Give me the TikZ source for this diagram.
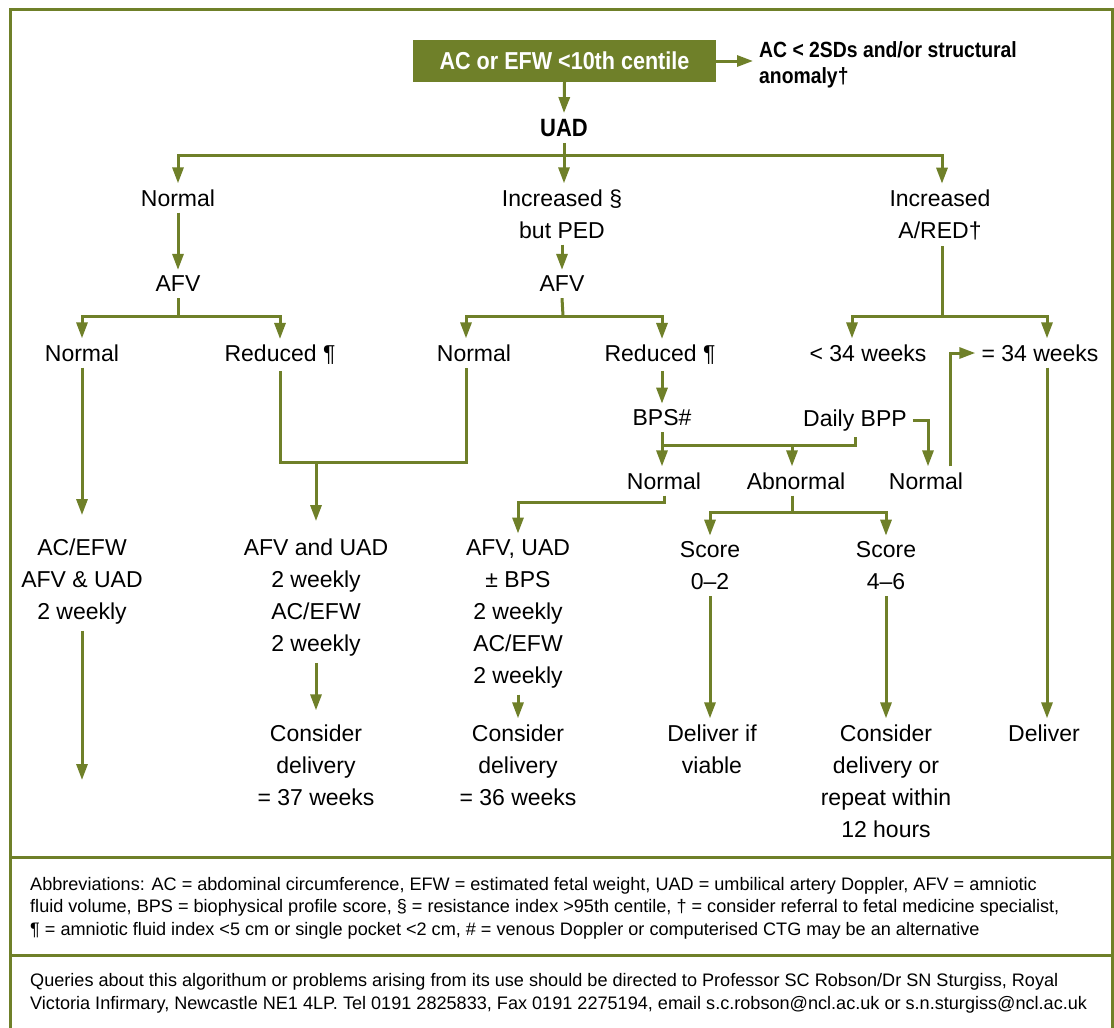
\documentclass[tikz,border=0pt]{standalone}
\usepackage{fontspec}
\setmainfont{Liberation Sans}
\newfontfamily\condfont[FakeStretch=0.88]{Liberation Sans}
\usetikzlibrary{arrows.meta}
\definecolor{leaf}{RGB}{111,128,41}
\tikzset{
  conn/.style={draw=leaf, line width=3pt},
  arr/.style={conn, -{Triangle[width=11pt,length=16pt]}},
  txt/.style={font=\fontsize{23}{32}\selectfont, align=center, inner sep=6pt},
  topbox/.style={fill=leaf, text=white, font=\condfont\bfseries\fontsize{24.5}{30}\selectfont,
    minimum width=303pt, minimum height=42pt, inner sep=0pt},
  boldtxt/.style={font=\condfont\bfseries\fontsize{25}{30}\selectfont, inner sep=6pt},
  sidetxt/.style={font=\condfont\bfseries\fontsize{22}{26}\selectfont, align=left, inner sep=0pt},
  foot/.style={font=\fontsize{18.1}{22.5}\selectfont, align=left, inner sep=0pt},
  framel/.style={draw=leaf, line width=3pt}
}
\begin{document}
\begin{tikzpicture}[x=1pt,y=-1pt]
\useasboundingbox (0,0) rectangle (1114,1028);
\fill[white] (0,0) rectangle (1114,1028);
% frame
\draw[framel] (10,1028) -- (10,9.5) -- (1112,9.5) -- (1112,1028);
\draw[framel] (10,857) -- (1112,857);
\draw[framel] (10,955) -- (1112,955);

% nodes
\node[topbox] (top) at (564.5,61) {AC or EFW <10th centile};
\node[sidetxt, anchor=west] (side) at (759,65) {AC < 2SDs and/or structural\\anomaly†};
\node[boldtxt] (uad) at (564,128) {UAD};
\node[txt] (n1) at (178,198) {Normal};
\node[txt] (inc) at (562,214) {Increased §\\but PED};
\node[txt] (ared) at (940,215) {Increased\\A/RED†};
\node[txt] (afv1) at (178,284) {AFV};
\node[txt] (afv2) at (562,284) {AFV};
\node[txt] (n2) at (82,353) {Normal};
\node[txt] (r2) at (280,355) {Reduced ¶};
\node[txt] (n3) at (474,353) {Normal};
\node[txt] (r3) at (660,355) {Reduced ¶};
\node[txt] (lt) at (868,353) {< 34 weeks};
\node[txt] (ge) at (1040,353) {= 34 weeks};
\node[txt] (bps) at (662,418) {BPS\#};
\node[txt] (dbpp) at (855,420.5) {Daily BPP};
\node[txt] (n4) at (664,481) {Normal};
\node[txt] (ab) at (796,481) {Abnormal};
\node[txt] (n5) at (926,481) {Normal};
\node[txt] (l1) at (82,582) {AC/EFW\\AFV \& UAD\\2 weekly};
\node[txt] (m1) at (316,598) {AFV and UAD\\2 weekly\\AC/EFW\\2 weekly};
\node[txt] (r4) at (518,614) {AFV, UAD\\± BPS\\2 weekly\\AC/EFW\\2 weekly};
\node[txt] (sc1) at (710,566) {Score\\0–2};
\node[txt] (sc2) at (886,566) {Score\\4–6};
\node[txt] (c1) at (316,765) {Consider\\delivery\\= 37 weeks};
\node[txt] (c2) at (518,765) {Consider\\delivery\\= 36 weeks};
\node[txt] (d1) at (712,749) {Deliver if\\viable};
\node[txt] (d2) at (886,781) {Consider\\delivery or\\repeat within\\12 hours};
\node[txt] (del) at (1044,733) {Deliver};

\node[foot, anchor=west] (abbr) at (30,908) {Abbreviations: AC = abdominal circumference, EFW = estimated fetal weight, UAD = umbilical artery Doppler, AFV = amniotic\\fluid volume, BPS = biophysical profile score, § = resistance index >95th centile, † = consider referral to fetal medicine specialist,\\¶ = amniotic fluid index <5 cm or single pocket <2 cm, \# = venous Doppler or computerised CTG may be an alternative};
\node[foot, anchor=west] (query) at (30,993.5) {Queries about this algorithum or problems arising from its use should be directed to Professor SC Robson/Dr SN Sturgiss, Royal\\Victoria Infirmary, Newcastle NE1 4LP. Tel 0191 2825833, Fax 0191 2275194, email s.c.robson@ncl.ac.uk or s.n.sturgiss@ncl.ac.uk};

% junction coordinates
\coordinate (b1) at (564,155);
\coordinate (b2) at (178,316);
\coordinate (b3) at (563,316);
\coordinate (b4) at (942,316);
\coordinate (j1) at (316,462);
\coordinate (j2) at (792,445);
\coordinate (j3) at (664,502);
\coordinate (j4) at (792,512);
\coordinate (e1) at (82,780);
\coordinate (n3a) at ([xshift=-8pt]n3.north);
\coordinate (n3b) at ([xshift=-8pt]n3.south);

% connectors
\draw[arr, shorten >=6pt] (top.east) -- (top.east -| side.west);
\draw[arr] (top.south) -- (uad.north);
\draw[conn] (uad.south) -- (b1);
\draw[arr] (b1) -| (n1.north);
\draw[arr] (b1) -- (b1 |- inc.north);
\draw[arr] (b1) -| ([xshift=2pt]ared.north);
\draw[arr] (n1) -- (afv1);
\draw[arr] (inc) -- (afv2);
\draw[conn] (afv1.south) -- (b2);
\draw[arr] (b2) -| (n2.north);
\draw[arr] (b2) -| (r2.north);
\draw[conn] (afv2.south) -- (b3);
\draw[arr] (b3) -| (n3a);
\draw[arr] (b3) -| ([xshift=2pt]r3.north);
\draw[conn] (ared.south -| b4) -- (b4);
\draw[arr] (b4) -| ([xshift=-16pt]lt.north);
\draw[arr] (b4) -| ([xshift=7pt]ge.north);
\draw[arr, shorten >=18pt] (n2) -- (l1);
\draw[arr] (l1.south) -- (e1);
\draw[conn] (r2.south) |- (n3b |- j1) -- (n3b);
\draw[arr, shorten >=12pt] (j1) -- (m1.north);
\draw[arr, shorten >=8pt] (m1) -- (c1);
\draw[arr] ([xshift=2pt]r3.south) -- ([xshift=2pt]r3.south |- bps.north);
\draw[arr] (bps.south) -- (bps.south |- n4.north);
\draw[conn] (dbpp.south) |- (bps.south |- j2);
\draw[arr] (j2) -- (j2 |- ab.north);
\draw[arr] (dbpp.east) -| ([xshift=2pt]n5.north);
\draw[arr] ([xshift=24pt]n5.north) |- (ge.west);
\draw[arr] (n4.south) -- (j3) -| (r4.north);
\draw[arr] (r4) -- (c2);
\draw[conn] (ab.south -| j4) -- (j4);
\draw[arr] (j4) -| (sc1.north);
\draw[arr] (j4) -| (sc2.north);
\draw[arr] (sc1.south) -- (sc1.south |- d1.north);
\draw[arr] (sc2) -- (d2);
\draw[arr] ([xshift=7pt]ge.south) -- ([xshift=3pt]del.north);
\end{tikzpicture}
\end{document}
